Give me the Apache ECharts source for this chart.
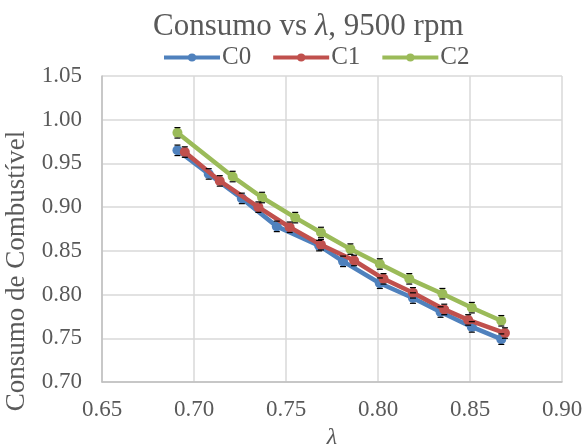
<!DOCTYPE html>
<html><head><meta charset="utf-8">
<script src="https://cdn.jsdelivr.net/npm/echarts@6/dist/echarts.min.js"></script>
<style>html,body{margin:0;padding:0;background:#fff}#c{width:584px;height:446px}</style>
</head><body><div id="c"></div>
<script>
const seriesNames = ['C0', 'C1', 'C2'];
const lambdaC0 = [0.691, 0.708, 0.726, 0.745, 0.768, 0.781, 0.801, 0.819, 0.834, 0.851, 0.867];
const valuesC0 = [0.965, 0.938, 0.910, 0.878, 0.856, 0.838, 0.813, 0.796, 0.780, 0.763, 0.749];
const lambdaC1 = [0.695, 0.714, 0.735, 0.752, 0.769, 0.787, 0.803, 0.819, 0.836, 0.849, 0.869];
const valuesC1 = [0.963, 0.930, 0.900, 0.877, 0.857, 0.839, 0.818, 0.802, 0.783, 0.771, 0.756];
const lambdaC2 = [0.691, 0.721, 0.737, 0.755, 0.769, 0.785, 0.801, 0.817, 0.835, 0.851, 0.867];
const valuesC2 = [0.985, 0.935, 0.911, 0.888, 0.871, 0.852, 0.835, 0.818, 0.801, 0.785, 0.770];
const errC = [0.006, 0.006, 0.006, 0.006, 0.006, 0.006, 0.006, 0.006, 0.006, 0.006, 0.006];
const xTicks = [0.65, 0.70, 0.75, 0.80, 0.85, 0.90];
const yTicks = [0.70, 0.75, 0.80, 0.85, 0.90, 0.95, 1.00, 1.05];

const colors = ['#4F81BD', '#C0504D', '#9BBB59'];
const lambdas = [lambdaC0, lambdaC1, lambdaC2];
const values = [valuesC0, valuesC1, valuesC2];
const FONT = '"Liberation Serif", "Times New Roman", serif';

const chart = echarts.init(document.getElementById('c'), null, {renderer: 'canvas'});
const series = [];
seriesNames.forEach((n, i) => {
  series.push({
    name: n, type: 'line', z: 2 + i,
    data: lambdas[i].map((x, j) => [x, values[i][j]]),
    symbol: 'circle', symbolSize: 10,
    lineStyle: {width: 4.5, color: colors[i]},
    itemStyle: {color: colors[i]},
    emphasis: {disabled: true}
  });
  series.push({
    type: 'custom', z: 10 + i, silent: true,
    data: lambdas[i].map((x, j) => [x, values[i][j], errC[j]]),
    renderItem: function (params, api) {
      const x = api.value(0), y = api.value(1), e = api.value(2);
      const hi = api.coord([x, y + e]);
      const lo = api.coord([x, y - e]);
      const w = 3;
      const st = {stroke: '#000', lineWidth: 1.2};
      return {type: 'group', children: [
        {type: 'line', shape: {x1: hi[0] - w, y1: hi[1], x2: hi[0] + w, y2: hi[1]}, style: st},
        {type: 'line', shape: {x1: lo[0] - w, y1: lo[1], x2: lo[0] + w, y2: lo[1]}, style: st}
      ]};
    }
  });
});

chart.setOption({
  animation: false,
  color: colors,
  title: {
    text: '{a|Consumo vs }{b|λ}{a|, 9500 rpm}',
    left: 148, top: 6,
    textStyle: {fontWeight: 'normal', rich: {
      a: {fontFamily: FONT, fontSize: 31, color: '#595959', fontWeight: 'normal'},
      b: {fontFamily: FONT, fontSize: 31, color: '#595959', fontStyle: 'italic', fontWeight: 'normal'}
    }}
  },
  legend: {
    data: seriesNames, top: 40, left: 157, itemGap: 20,
    itemWidth: 56, itemHeight: 10,
    lineStyle: {width: 4},
    textStyle: {fontFamily: FONT, fontSize: 25, color: '#595959', padding: [0, 0, 0, -3]}
  },
  grid: {left: 102, right: 22, top: 76, bottom: 64, containLabel: false, outerBoundsMode: 'none'},
  xAxis: {
    type: 'value', min: 0.65, max: 0.90, interval: 0.05,
    name: 'λ', nameLocation: 'middle', nameGap: 40,
    nameTextStyle: {fontFamily: FONT, fontSize: 24, color: '#595959', fontStyle: 'italic'},
    axisLine: {show: true, lineStyle: {color: '#bfbfbf', width: 1.5}},
    axisTick: {show: false},
    axisLabel: {fontFamily: FONT, fontSize: 23, color: '#595959', margin: 16,
      formatter: v => v.toFixed(2)},
    splitLine: {show: true, lineStyle: {color: '#d9d9d9', width: 1.5}}
  },
  yAxis: {
    type: 'value', min: 0.70, max: 1.05, interval: 0.05,
    name: 'Consumo de Combustível', nameLocation: 'middle', nameGap: 67,
    nameTextStyle: {fontFamily: FONT, fontSize: 27, color: '#595959', padding: [0, 84, 0, 0]},
    axisLine: {show: true, lineStyle: {color: '#bfbfbf', width: 1.5}},
    axisTick: {show: false},
    axisLabel: {fontFamily: FONT, fontSize: 23, color: '#595959', margin: 20,
      formatter: v => v.toFixed(2)},
    splitLine: {show: true, lineStyle: {color: '#d9d9d9', width: 1.5}}
  },
  series: series
});
</script></body></html>
